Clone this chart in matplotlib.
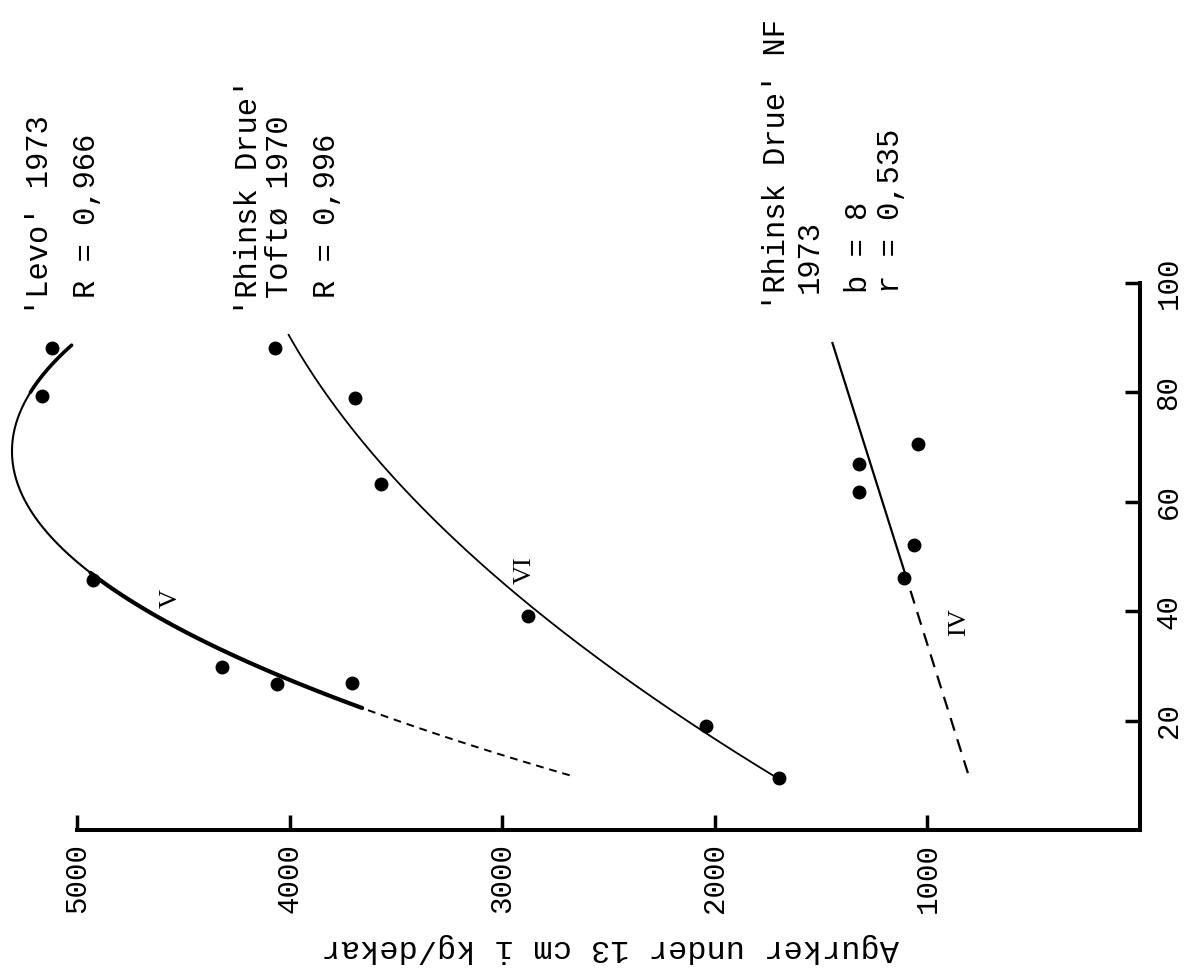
import numpy as np
import matplotlib
matplotlib.use("Agg")
import matplotlib.pyplot as plt

# ---------------- data ----------------
# percentage (original x axis) and yield kg/dekar (original y axis)
levo_pct = [88.1, 79.3, 45.7, 29.8, 26.7, 26.9]
levo_yield = [5119, 5165, 4925, 4318, 4059, 3707]

toft_pct = [88.1, 79.0, 63.3, 39.1, 19.0, 9.5]
toft_yield = [4069, 3692, 3570, 2879, 2041, 1698]

nf_pct = [70.6, 66.9, 61.8, 52.1, 46.1]
nf_yield = [1044, 1322, 1322, 1063, 1110]

# points
levo_curve_pct = [10.0, 19.5, 22.3, 27.9, 33.4, 39.6, 46.2, 53.0, 63.4, 70.7, 88.6]
levo_curve_yield = [2643, 3481, 3702, 4045, 4327, 4610, 4925, 5113, 5268, 5301, 5033]

toft_curve_pct = [9.5, 18.3, 40.6, 58.0, 73.7, 86.8, 90.5]
toft_curve_yield = [1698, 2070, 2879, 3326, 3716, 3951, 4007]

nf_line_pct = [10.4, 47.0, 89.0]
nf_line_yield = [810, 1105, 1447]

yield_ticks = [1000, 2000, 3000, 4000, 5000]
pct_ticks = [20, 40, 60, 80, 100]
yield_label = "Agurker under 13 cm i kg/dekar"

MONO = "Liberation Mono"
SERIF = "Liberation Serif"

# ---------------- figure ----------------
W, H = 1190, 972
fig = plt.figure(figsize=(W / 100, H / 100), dpi=100)
ax = fig.add_axes([0, 142 / H, 1140 / W, 830 / H])
ax.set_xlim(5362, 0)
ax.set_ylim(0, 151.7)
ax.patch.set_alpha(0)

for s in ("top", "left"):
    ax.spines[s].set_visible(False)
for s in ("bottom", "right"):
    ax.spines[s].set_linewidth(2.9)
    ax.spines[s].set_capstyle("projecting")
ax.spines["bottom"].set_bounds(0, 5000)
ax.spines["right"].set_bounds(0, 100)

ax.yaxis.tick_right()
ax.set_xticks(yield_ticks)
ax.set_xticklabels([str(v) for v in yield_ticks], rotation=90,
                   fontfamily=MONO, fontsize=21)
ax.set_yticks(pct_ticks)
ax.set_yticklabels([str(v) for v in pct_ticks], rotation=90,
                   fontfamily=MONO, fontsize=21, va="center")
ax.tick_params(axis="x", direction="in", length=11, width=2.5, pad=9)
ax.tick_params(axis="y", direction="in", length=11, width=2.5, pad=10.5)

ax.set_xlabel(yield_label, rotation=180, fontfamily=MONO, fontsize=23,
              ha="center", va="center")
ax.xaxis.set_label_coords(610 / 1140, -(948 - 830) / 830)

# ---------------- curves ----------------
# V : Levo (quadratic)
c5 = np.polyfit(levo_curve_pct, levo_curve_yield, 2)
p = np.linspace(levo_curve_pct[0], levo_curve_pct[2], 60)
ax.plot(np.polyval(c5, p), p, color="black", lw=1.4, ls=(0, (4, 3)))
p = np.linspace(levo_curve_pct[2], levo_curve_pct[-1], 200)
ax.plot(np.polyval(c5, p), p, color="black", lw=1.5)
p = np.linspace(levo_curve_pct[2], 47, 80)
ax.plot(np.polyval(c5, p), p, color="black", lw=3.0, solid_capstyle="round")
p = np.linspace(80, levo_curve_pct[-1], 40)
ax.plot(np.polyval(c5, p), p, color="black", lw=2.6, solid_capstyle="round")

# VI : Rhinsk Drue Toftø (quadratic)
c6 = np.polyfit(toft_curve_pct, toft_curve_yield, 2)
p = np.linspace(toft_curve_pct[0], toft_curve_pct[-1], 200)
ax.plot(np.polyval(c6, p), p, color="black", lw=1.3)

# IV : Rhinsk Drue NF (linear)
c4 = np.polyfit(nf_line_pct, nf_line_yield, 1)
p = np.linspace(nf_line_pct[0], 46.1, 30)
ax.plot(np.polyval(c4, p), p, color="black", lw=1.6, ls=(0, (6, 4)))
p = np.linspace(46.1, nf_line_pct[-1], 30)
ax.plot(np.polyval(c4, p), p, color="black", lw=1.6)

# ---------------- points ----------------
for ys, ps in ((levo_yield, levo_pct), (toft_yield, toft_pct), (nf_yield, nf_pct)):
    ax.plot(ys, ps, ls="none", marker="o", ms=9, color="black", zorder=5)

# ---------------- annotations ----------------
annots = [
    ("'Levo' 1973", 5174, 94.0),
    ("R = 0,966", 4953, 97.3),
    ("'Rhinsk Drue'", 4191, 94.0),
    ("Toftø 1970", 4045, 97.3),
    ("R = 0,996", 3824, 97.3),
    ("'Rhinsk Drue' NF", 1707, 94.9),
    ("1973", 1552, 98.2),
    ("b = 8", 1322, 98.2),
    ("r = 0,535", 1171, 98.2),
]
for txt, xv, yv in annots:
    ax.text(xv, yv, txt, rotation=90, rotation_mode="anchor", ha="left",
            va="center", fontfamily=MONO, fontsize=22, clip_on=False)

for txt, xv, yv in (("V", 4558, 42.4), ("VI", 2893, 47.5), ("IV", 851, 38.0)):
    ax.text(xv, yv, txt, rotation=90, ha="center", va="center",
            fontfamily=SERIF, fontsize=19)

fig.savefig("out.png", dpi=100)
